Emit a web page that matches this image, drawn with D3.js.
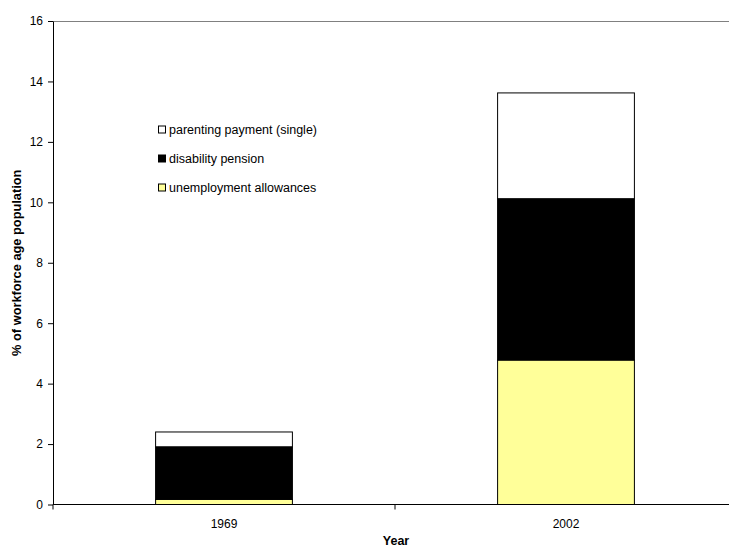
<!DOCTYPE html>
<html>
<head>
<meta charset="utf-8">
<script src="https://cdn.jsdelivr.net/npm/d3@7/dist/d3.min.js"></script>
<style>
  html, body { margin: 0; padding: 0; background: #fff; overflow: hidden; }
  svg { display: block; font-family: "Liberation Sans", Arial, sans-serif; }
</style>
</head>
<body>
<svg id="chart" width="729" height="547"></svg>
<script>
// Welfare recipients as % of workforce age population
const years = ["1969", "2002"];
const seriesNames = ["unemployment allowances", "disability pension", "parenting payment (single)"];
const unemployment = [0.17, 4.78];
const disability = [1.74, 5.34];
const parenting = [0.49, 3.50];
const yTicks = [0, 2, 4, 6, 8, 10, 12, 14, 16];
const colors = ["#ffff99", "#000000", "#ffffff"];

const rows = years.map((yr, i) => ({
  year: yr,
  "unemployment allowances": unemployment[i],
  "disability pension": disability[i],
  "parenting payment (single)": parenting[i]
}));

const svg = d3.select("#chart");
const plotLeft = 53, plotRight = 737, plotTop = 21, plotBottom = 504.5;

const x = d3.scaleBand().domain(years).range([plotLeft, plotRight]).paddingInner(0.6).paddingOuter(0.3);
const y = d3.scaleLinear().domain([0, 16]).range([plotBottom, plotTop]);

const stacked = d3.stack().keys(seriesNames)(rows);

// top border of plot area
svg.append("line")
  .attr("x1", plotLeft).attr("x2", plotRight)
  .attr("y1", plotTop + 0.5).attr("y2", plotTop + 0.5)
  .attr("stroke", "#808080").attr("stroke-width", 1);

// stacked bars
svg.append("g").selectAll("g")
  .data(stacked)
  .join("g")
  .attr("fill", (d, i) => colors[i])
  .selectAll("rect")
  .data(d => d)
  .join("rect")
  .attr("x", d => x(d.data.year))
  .attr("width", x.bandwidth())
  .attr("y", d => y(d[1]))
  .attr("height", d => y(d[0]) - y(d[1]))
  .attr("stroke", "#000")
  .attr("stroke-width", 1);

// y axis
const yAxis = svg.append("g")
  .attr("transform", `translate(${plotLeft},0)`)
  .call(d3.axisLeft(y).tickValues(yTicks).tickSize(5).tickSizeOuter(0).tickPadding(5));
yAxis.select(".domain").attr("stroke", "#000");
yAxis.selectAll("text").attr("font-size", 12).attr("fill", "#000")
  .attr("font-family", "Liberation Sans, Arial, sans-serif");

// x axis with ticks at category boundaries
const xAxisG = svg.append("g").attr("transform", `translate(0,${plotBottom})`);
xAxisG.append("line").attr("x1", plotLeft).attr("x2", plotRight).attr("y1", 0).attr("y2", 0).attr("stroke", "#000");
const step = x.step();
const boundaries = [plotLeft, plotLeft + step, plotLeft + 2 * step];
xAxisG.selectAll(".tick-b").data(boundaries).join("line")
  .attr("class", "tick-b")
  .attr("x1", d => d).attr("x2", d => d).attr("y1", 0).attr("y2", 5).attr("stroke", "#000");
xAxisG.selectAll(".lbl").data(years).join("text")
  .attr("class", "lbl")
  .attr("x", d => x(d) + x.bandwidth() / 2)
  .attr("y", 23)
  .attr("text-anchor", "middle")
  .attr("font-size", 12)
  .text(d => d);

// axis titles
svg.append("text")
  .attr("x", 396).attr("y", 545)
  .attr("text-anchor", "middle")
  .attr("font-size", 12.5).attr("font-weight", "bold")
  .text("Year");
svg.append("text")
  .attr("transform", `translate(21,${(plotTop + plotBottom) / 2}) rotate(-90)`)
  .attr("text-anchor", "middle")
  .attr("font-size", 12.8).attr("font-weight", "bold")
  .text("% of workforce age population");

// legend (top entry first)
const legendItems = seriesNames.map((n, i) => ({ name: n, color: colors[i] })).reverse();
const lg = svg.append("g").attr("transform", "translate(158,129.5)");
const li = lg.selectAll("g").data(legendItems).join("g")
  .attr("transform", (d, i) => `translate(0,${i * 29})`);
li.append("rect")
  .attr("x", 0.5).attr("y", -3.5).attr("width", 7).attr("height", 7)
  .attr("fill", d => d.color).attr("stroke", "#000").attr("stroke-width", 1);
li.append("text")
  .attr("x", 11).attr("y", 4.5)
  .attr("font-size", 12.5)
  .text(d => d.name);
</script>
</body>
</html>
